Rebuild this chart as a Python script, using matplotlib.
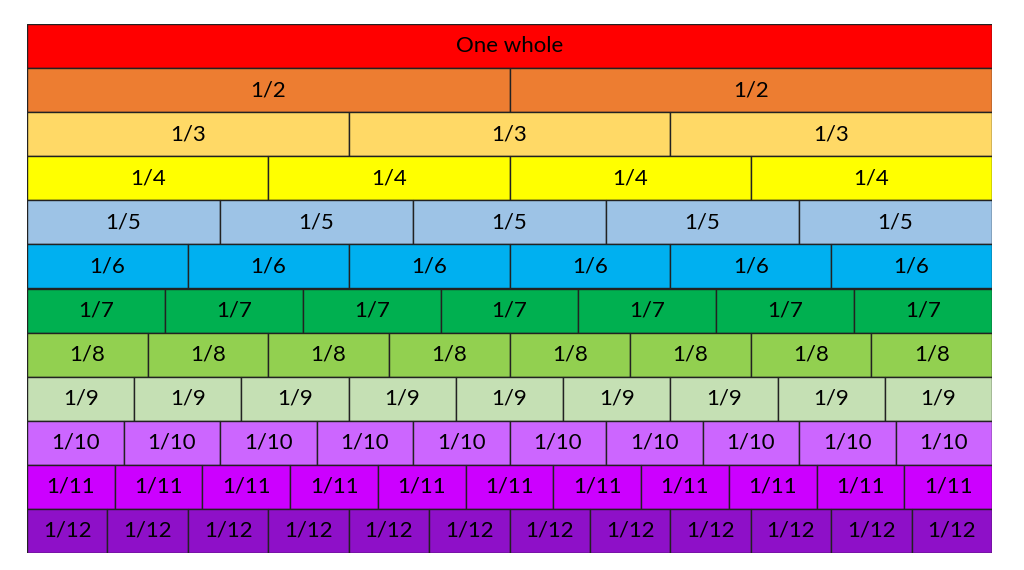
import matplotlib.pyplot as plt
from matplotlib.patches import Rectangle

denominators = [1, 2, 3, 4, 5, 6, 7, 8, 9, 10, 11, 12]
labels = ["One whole"] + ["1/%d" % d for d in denominators[1:]]
row_colors = ["#FF0000", "#ED7D31", "#FFD966", "#FFFF00", "#9DC3E6", "#00B0F0",
              "#00B050", "#92D050", "#C5E0B4", "#CC66FF", "#CC00FF", "#8E10C8"]

fig = plt.figure(figsize=(10.24, 5.70), dpi=100)
ax = fig.add_axes([27 / 1024, 17 / 570, 965 / 1024, 529 / 570])
ax.set_xlim(0, 1)
ax.set_ylim(len(denominators), 0)
ax.axis("off")

for row, d in enumerate(denominators):
    for k in range(d):
        ax.add_patch(Rectangle((k / d, row), 1 / d, 1, facecolor=row_colors[row],
                               edgecolor="#222222", linewidth=1))
        ax.text((k + 0.5) / d, row + 0.5, labels[row], ha="center", va="center",
                fontsize=16, family="Lato", color="black")

fig.savefig("out.png", dpi=100)
